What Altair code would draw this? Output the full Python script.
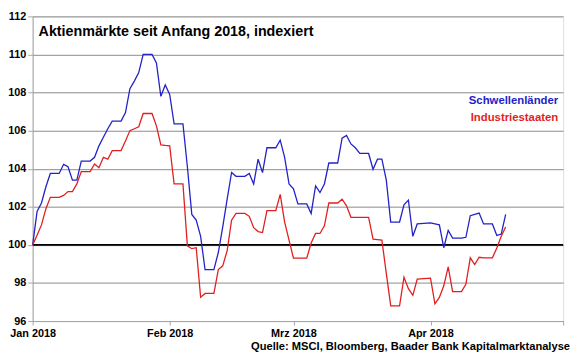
import altair as alt
import pandas as pd

# ---- data ----
dates = [
    "2018-01-01", "2018-01-02", "2018-01-03", "2018-01-04", "2018-01-05", "2018-01-07",
    "2018-01-08", "2018-01-09", "2018-01-10", "2018-01-11", "2018-01-12", "2018-01-14",
    "2018-01-15", "2018-01-16", "2018-01-17", "2018-01-18", "2018-01-19", "2018-01-21",
    "2018-01-22", "2018-01-23", "2018-01-24", "2018-01-25", "2018-01-26", "2018-01-28",
    "2018-01-29", "2018-01-30", "2018-01-31", "2018-02-01", "2018-02-02", "2018-02-04",
    "2018-02-05", "2018-02-06", "2018-02-07", "2018-02-08", "2018-02-09", "2018-02-11",
    "2018-02-12", "2018-02-13", "2018-02-14", "2018-02-15", "2018-02-16", "2018-02-18",
    "2018-02-19", "2018-02-20", "2018-02-21", "2018-02-22", "2018-02-23", "2018-02-25",
    "2018-02-26", "2018-02-27", "2018-02-28", "2018-03-01", "2018-03-02", "2018-03-04",
    "2018-03-05", "2018-03-06", "2018-03-07", "2018-03-08", "2018-03-09", "2018-03-11",
    "2018-03-12", "2018-03-13", "2018-03-14", "2018-03-15", "2018-03-16", "2018-03-18",
    "2018-03-19", "2018-03-20", "2018-03-21", "2018-03-22", "2018-03-23", "2018-03-25",
    "2018-03-26", "2018-03-27", "2018-03-28", "2018-03-29", "2018-04-01", "2018-04-02",
    "2018-04-03", "2018-04-04", "2018-04-05", "2018-04-06", "2018-04-08", "2018-04-09",
    "2018-04-10", "2018-04-11", "2018-04-12", "2018-04-13", "2018-04-15", "2018-04-16",
    "2018-04-17", "2018-04-18",
]

schwellenlaender = [
    100.0, 101.75, 102.2, 103.05, 103.75, 103.75,
    104.23, 104.1, 103.4, 103.4, 104.4, 104.4,
    104.6, 105.2, 105.65, 106.1, 106.5, 106.5,
    106.95, 108.2, 108.6, 109.05, 110.0, 110.0,
    109.55, 107.8, 108.4, 107.9, 106.35, 106.35,
    104.1, 101.6, 101.3, 100.45, 98.7, 98.7,
    99.6, 100.95, 102.4, 103.8, 103.6, 103.6,
    103.75, 103.2, 104.5, 103.8, 105.1, 105.1,
    105.5, 104.6, 103.2, 102.95, 102.15, 102.15,
    101.65, 103.1, 102.75, 103.2, 104.3, 104.3,
    105.6, 105.75, 105.3, 105.1, 104.8, 104.8,
    103.97, 104.5, 104.5, 103.4, 101.2, 101.2,
    102.1, 102.35, 100.45, 101.1, 101.15, 101.1,
    101.05, 99.85, 100.76, 100.36, 100.36, 100.4,
    101.53, 101.6, 101.67, 101.1, 101.1, 100.5,
    100.57, 101.6,
]

industriestaaten = [
    100.0, 100.5, 101.05, 101.9, 102.5, 102.5,
    102.6, 102.8, 102.8, 103.2, 103.85, 103.85,
    104.25, 104.05, 104.6, 104.5, 104.95, 104.95,
    105.45, 106.0, 106.1, 106.2, 106.9, 106.9,
    106.25, 105.25, 105.22, 105.2, 103.2, 103.2,
    99.95, 99.8, 99.85, 97.25, 97.45, 97.45,
    98.7, 98.9, 99.7, 101.3, 101.65, 101.65,
    101.5, 100.9, 100.7, 100.65, 101.8, 101.8,
    102.65, 101.2, 100.25, 99.3, 99.3, 99.3,
    100.1, 100.6, 100.6, 101.0, 102.2, 102.2,
    102.4, 102.05, 101.45, 101.45, 101.45, 101.45,
    100.3, 100.28, 100.25, 98.5, 96.8, 96.8,
    98.3, 97.7, 97.35, 98.2, 98.25, 96.9,
    97.24, 97.85, 98.85, 97.55, 97.55, 97.93,
    99.32, 98.97, 99.35, 99.32, 99.32, 99.84,
    100.45, 100.94,
]

series_names = ["Schwellenländer", "Industriestaaten"]
series_colors = ["#2222c8", "#e21e1e"]

y_ticks = [96, 98, 100, 102, 104, 106, 108, 110, 112]
x_tick_months = [1, 2, 3, 4, 5]
month_labels = ["Jan 2018", "Feb 2018", "Mrz 2018", "Apr 2018", ""]
baseline = [100]

title_text = "Aktienmärkte seit Anfang 2018, indexiert"
source_text = "Quelle: MSCI, Bloomberg, Baader Bank Kapitalmarktanalyse"

# ---- build table ----
rows = []
for d, s, i in zip(dates, schwellenlaender, industriestaaten):
    rows.append({"datum": d, "serie": series_names[0], "wert": s})
    rows.append({"datum": d, "serie": series_names[1], "wert": i})
df = pd.DataFrame(rows)

FONT = "Liberation Sans"
AXIS_GRAY = "#a6a6a6"

def dt(m):
    return alt.DateTime(year=2018, month=m, date=1, utc=True)

label_array = "[" + ",".join("'" + l + "'" for l in month_labels) + "]"

y_scale = alt.Scale(domain=[y_ticks[0], y_ticks[-1]], nice=False, zero=False)
y_axis = alt.Axis(
    values=y_ticks, grid=True, gridColor="#8a8a8a", gridWidth=1, title=None,
    tickSize=5, labelPadding=2, labelFont=FONT, labelFontSize=11,
    labelFontWeight="bold", labelColor="black", domainColor=AXIS_GRAY,
    tickColor=AXIS_GRAY, labelFlush=False, labelOverlap=False,
)

x_enc = alt.X(
    "datum:T",
    scale=alt.Scale(type="utc", domain=[dt(x_tick_months[0]), dt(x_tick_months[-1])]),
    axis=alt.Axis(
        values=[dt(m) for m in x_tick_months],
        labelExpr=label_array + "[utcmonth(datum.value)]",
        grid=False, title=None, tickSize=4, labelPadding=3,
        labelFont=FONT, labelFontSize=11, labelFontWeight="bold", labelColor="black",
        domainColor=AXIS_GRAY, tickColor=AXIS_GRAY, labelFlush=False, labelOverlap=False,
    ),
)

lines = alt.Chart(df).mark_line(strokeWidth=1.3).encode(
    x=x_enc,
    y=alt.Y("wert:Q", scale=y_scale, axis=y_axis),
    color=alt.Color("serie:N", scale=alt.Scale(domain=series_names, range=series_colors), legend=None),
    detail="serie:N",
)

rule = alt.Chart(pd.DataFrame({"wert": baseline})).mark_rule(color="black", strokeWidth=2).encode(
    y=alt.Y("wert:Q", scale=y_scale, axis=y_axis)
)

title = alt.Chart(pd.DataFrame({"t": [title_text]})).mark_text(
    font=FONT, fontSize=14.5, fontWeight="bold", align="left", baseline="middle", color="black"
).encode(text="t:N", x=alt.value(6), y=alt.value(16))

legend_df = pd.DataFrame({"serie": series_names, "pos": [86, 103]})
legend = alt.Chart(legend_df).mark_text(
    font=FONT, fontSize=11.5, fontWeight="bold", align="right", baseline="middle"
).encode(
    text="serie:N",
    y=alt.Y("pos:Q", scale=None),
    x=alt.value(533),
    color=alt.Color("serie:N", scale=alt.Scale(domain=series_names, range=series_colors), legend=None),
)

source = alt.Chart(pd.DataFrame({"t": [source_text]})).mark_text(
    font=FONT, fontSize=11.3, fontWeight="bold", align="right", baseline="middle", color="black"
).encode(text="t:N", x=alt.value(545), y=alt.value(335))

chart = alt.layer(rule, lines, title, legend, source).properties(
    width=538,
    height=309,
    padding={"left": 25, "top": 6, "right": 9, "bottom": 36},
    autosize=alt.AutoSizeParams(type="none"),
).configure_view(stroke="#b4b4b4", strokeWidth=1).configure(background="white")

chart.save("out.html", embed_options={"renderer": "svg", "actions": False})
